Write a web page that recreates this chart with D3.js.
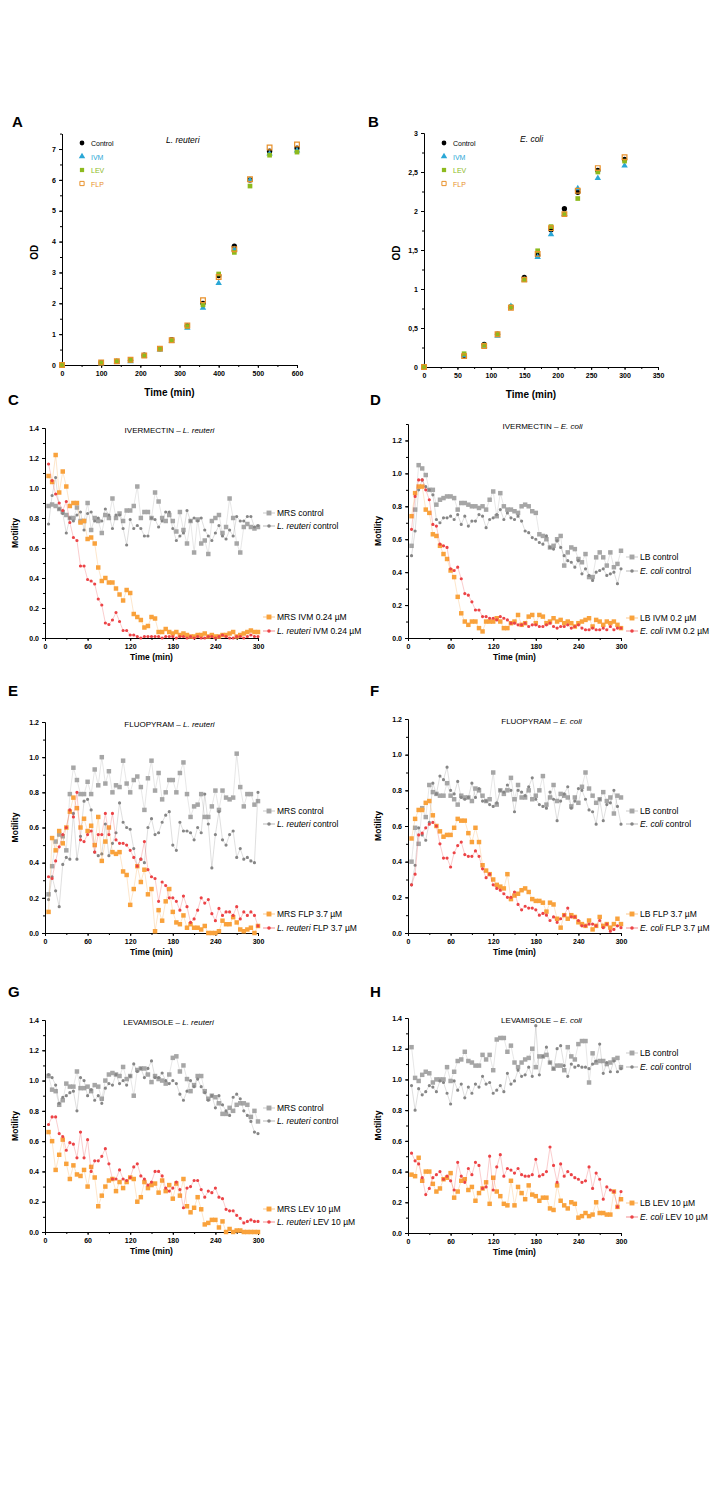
<!DOCTYPE html>
<html><head><meta charset="utf-8">
<script src="https://cdn.jsdelivr.net/npm/d3@7"></script>
<style>body{margin:0;background:#fff}svg{font-family:"Liberation Sans",Arial,sans-serif}</style>
</head><body><div id="fig"></div>
<script>
// growth curves
const growthTimesA = [0,100,140,175,210,250,280,320,360,400,440,480,530,600];
const growthA = {
  Control: [0,0.08,0.12,0.15,0.32,0.53,0.82,1.27,2.0,2.9,3.85,6.0,6.93,7.03],
  IVM: [0,0.05,0.1,0.12,0.3,0.5,0.78,1.2,1.85,2.65,3.75,6.0,6.85,6.95],
  LEV: [0,0.07,0.12,0.15,0.31,0.52,0.8,1.25,1.95,2.95,3.65,5.8,6.8,6.9],
  FLP: [0,0.08,0.12,0.17,0.31,0.53,0.8,1.28,2.1,2.85,3.75,6.02,7.05,7.15]
};
const growthTimesB = [0,60,90,110,130,150,170,190,210,230,260,300];
const growthB = {
  Control: [0,0.15,0.29,0.42,0.77,1.15,1.43,1.76,2.03,2.24,2.52,2.66],
  IVM: [0,0.15,0.27,0.4,0.78,1.12,1.41,1.7,1.96,2.29,2.42,2.58],
  LEV: [0,0.17,0.28,0.42,0.77,1.12,1.49,1.8,1.96,2.16,2.5,2.64],
  FLP: [0,0.14,0.27,0.42,0.76,1.12,1.45,1.78,1.96,2.26,2.55,2.69]
};

// motility, one value every 5 min from 5 to 300
const ivmRMrs = [0.88,0.89,0.88,0.86,0.84,0.82,0.80,0.80,0.87,0.78,0.78,0.90,0.72,0.80,0.78,0.70,0.82,0.80,0.93,0.80,0.83,0.78,0.85,0.85,0.88,1.01,0.80,0.84,0.84,0.80,0.97,0.91,0.80,0.78,0.82,0.78,0.71,0.84,0.72,0.63,0.78,0.57,0.79,0.63,0.65,0.56,0.78,0.80,0.82,0.70,0.74,0.93,0.80,0.63,0.57,0.74,0.76,0.74,0.73,0.74];
const ivmRCtl = [0.76,0.95,1.07,0.86,0.83,0.70,0.80,0.78,0.82,0.84,0.72,0.83,0.84,0.78,0.80,0.78,0.86,0.82,0.73,0.82,0.82,0.73,0.62,0.79,0.73,0.75,0.73,0.68,0.68,0.80,0.79,0.74,0.78,0.84,0.84,0.73,0.65,0.68,0.70,0.85,0.78,0.80,0.78,0.80,0.72,0.68,0.65,0.70,0.75,0.68,0.66,0.72,0.68,0.81,0.78,0.78,0.81,0.81,0.74,0.75];
const ivmRMed = [1.08,1.04,1.22,0.97,1.11,1.01,0.88,0.90,0.90,0.77,0.78,0.66,0.67,0.63,0.47,0.38,0.40,0.37,0.37,0.33,0.29,0.25,0.32,0.30,0.16,0.14,0.12,0.07,0.08,0.14,0.13,0.04,0.04,0.06,0.04,0.03,0.04,0.02,0.03,0.02,0.01,0.01,0.02,0.02,0.03,0.01,0.02,0.01,0.01,0.02,0.02,0.03,0.04,0.01,0.02,0.03,0.04,0.05,0.04,0.04];
const ivmRBug = [1.16,1.05,0.96,0.90,0.85,0.91,0.77,0.67,0.65,0.48,0.48,0.39,0.38,0.36,0.26,0.22,0.10,0.09,0.12,0.17,0.11,0.05,0.05,0.02,0.02,0.01,0.00,0.01,0.01,0.01,0.01,0.01,0.00,0.01,0.01,0.01,0.00,0.01,0.01,0.00,0.01,0.00,0.01,0.00,0.00,0.01,0.01,0.00,0.01,0.02,0.01,0.00,0.00,0.01,0.01,0.00,0.01,0.02,0.01,0.01];

const ivmELb = [0.56,0.78,1.05,1.03,0.99,0.90,0.90,0.81,0.84,0.85,0.86,0.86,0.85,0.78,0.82,0.82,0.81,0.80,0.80,0.79,0.80,0.78,0.84,0.89,0.74,0.88,0.80,0.78,0.78,0.77,0.76,0.80,0.81,0.80,0.77,0.76,0.63,0.62,0.60,0.55,0.56,0.60,0.62,0.44,0.52,0.55,0.54,0.48,0.46,0.51,0.37,0.37,0.49,0.52,0.49,0.44,0.52,0.43,0.45,0.53];
const ivmECtl = [0.50,0.65,0.90,0.96,0.92,0.90,0.87,0.72,0.70,0.73,0.73,0.74,0.72,0.75,0.69,0.74,0.68,0.71,0.71,0.75,0.74,0.67,0.72,0.73,0.75,0.78,0.72,0.76,0.73,0.72,0.74,0.71,0.65,0.64,0.61,0.60,0.58,0.57,0.62,0.55,0.54,0.59,0.55,0.50,0.47,0.46,0.43,0.47,0.39,0.42,0.38,0.35,0.40,0.41,0.42,0.38,0.39,0.40,0.33,0.42];
const ivmEMed = [0.74,0.88,0.92,0.92,0.78,0.76,0.63,0.62,0.56,0.51,0.48,0.41,0.37,0.25,0.15,0.10,0.08,0.10,0.10,0.06,0.04,0.10,0.10,0.10,0.12,0.10,0.06,0.06,0.09,0.10,0.14,0.08,0.09,0.13,0.14,0.09,0.14,0.13,0.09,0.10,0.12,0.10,0.11,0.09,0.10,0.09,0.07,0.09,0.10,0.11,0.12,0.07,0.11,0.10,0.08,0.10,0.09,0.10,0.08,0.06];
const ivmEBug = [0.66,0.86,0.96,0.96,0.90,0.84,0.69,0.68,0.57,0.56,0.55,0.42,0.41,0.43,0.36,0.27,0.26,0.22,0.17,0.17,0.13,0.13,0.12,0.12,0.11,0.13,0.12,0.11,0.09,0.09,0.08,0.08,0.09,0.07,0.08,0.08,0.07,0.07,0.08,0.09,0.07,0.06,0.07,0.07,0.08,0.06,0.07,0.08,0.06,0.05,0.05,0.06,0.05,0.05,0.06,0.05,0.07,0.05,0.06,0.06];

const flpRMrs = [0.22,0.38,0.52,0.56,0.55,0.47,0.79,0.94,0.87,0.79,0.79,0.86,0.79,0.93,0.84,1.00,0.85,0.92,0.80,0.84,0.83,0.98,0.85,0.80,0.87,0.89,0.83,0.70,0.88,0.98,0.81,0.91,0.76,0.80,0.87,0.87,0.80,0.91,0.97,0.79,0.66,0.72,0.73,0.79,0.66,0.66,0.72,0.81,0.70,0.81,0.77,0.76,0.77,1.02,0.83,0.72,0.79,0.79,0.73,0.75];
const flpRCtl = [0.19,0.32,0.24,0.15,0.39,0.43,0.42,0.68,0.42,0.55,0.75,0.76,0.70,0.46,0.44,0.45,0.62,0.44,0.51,0.57,0.74,0.63,0.60,0.59,0.48,0.38,0.42,0.40,0.60,0.65,0.56,0.57,0.63,0.67,0.69,0.50,0.47,0.63,0.58,0.58,0.57,0.53,0.60,0.57,0.79,0.62,0.37,0.56,0.69,0.53,0.50,0.56,0.58,0.43,0.48,0.42,0.43,0.41,0.40,0.80];
const flpRMed = [0.12,0.54,0.47,0.58,0.51,0.60,0.69,0.77,0.71,0.60,0.65,0.58,0.61,0.50,0.66,0.41,0.52,0.60,0.46,0.45,0.46,0.35,0.33,0.16,0.25,0.38,0.29,0.36,0.22,0.25,0.01,0.13,0.07,0.18,0.25,0.12,0.06,0.05,0.10,0.03,0.05,0.03,0.03,0.02,0.04,0.00,0.00,0.00,0.01,0.07,0.05,0.05,0.09,0.06,0.02,0.01,0.02,0.03,0.00,0.04];
const flpRBug = [0.32,0.31,0.41,0.49,0.56,0.60,0.70,0.66,0.80,0.53,0.52,0.56,0.58,0.46,0.56,0.56,0.68,0.56,0.68,0.53,0.51,0.51,0.50,0.47,0.43,0.38,0.42,0.52,0.36,0.32,0.31,0.18,0.29,0.27,0.20,0.20,0.18,0.13,0.21,0.15,0.06,0.08,0.13,0.20,0.17,0.19,0.11,0.07,0.14,0.10,0.12,0.12,0.10,0.15,0.08,0.12,0.10,0.12,0.10,0.04];

const flpELb = [0.40,0.59,0.50,0.70,0.65,0.83,0.79,0.78,0.77,0.77,0.84,0.77,0.75,0.72,0.77,0.76,0.76,0.74,0.81,0.80,0.77,0.74,0.75,0.90,0.72,0.80,0.78,0.80,0.87,0.75,0.83,0.76,0.76,0.80,0.75,0.77,0.80,0.88,0.72,0.76,0.83,0.74,0.78,0.77,0.76,0.71,0.76,0.73,0.82,0.90,0.81,0.77,0.73,0.75,0.79,0.74,0.76,0.67,0.77,0.76];
const flpECtl = [0.27,0.38,0.59,0.55,0.52,0.62,0.84,0.78,0.88,0.86,0.93,0.80,0.78,0.85,0.76,0.75,0.76,0.84,0.76,0.81,0.74,0.74,0.72,0.71,0.73,0.80,0.79,0.83,0.80,0.68,0.80,0.79,0.77,0.82,0.87,0.75,0.72,0.71,0.70,0.79,0.75,0.63,0.74,0.78,0.82,0.70,0.74,0.81,0.80,0.75,0.69,0.68,0.61,0.75,0.63,0.72,0.73,0.80,0.71,0.61];
const flpEMed = [0.53,0.64,0.69,0.69,0.73,0.74,0.66,0.60,0.57,0.54,0.55,0.55,0.59,0.64,0.63,0.63,0.56,0.51,0.59,0.51,0.38,0.35,0.33,0.30,0.27,0.26,0.25,0.33,0.19,0.21,0.22,0.24,0.25,0.23,0.19,0.18,0.18,0.17,0.12,0.17,0.16,0.08,0.03,0.10,0.08,0.10,0.09,0.06,0.05,0.04,0.07,0.02,0.04,0.09,0.04,0.05,0.03,0.05,0.08,0.05];
const flpEBug = [0.27,0.33,0.55,0.56,0.59,0.61,0.62,0.60,0.50,0.42,0.42,0.37,0.45,0.49,0.51,0.44,0.43,0.43,0.46,0.43,0.36,0.31,0.33,0.27,0.25,0.24,0.22,0.20,0.20,0.23,0.16,0.13,0.15,0.14,0.14,0.13,0.10,0.11,0.10,0.07,0.09,0.06,0.08,0.10,0.14,0.09,0.09,0.07,0.04,0.04,0.05,0.05,0.04,0.07,0.03,0.05,0.01,0.02,0.04,0.03];

const levRMrs = [1.03,0.94,0.93,0.84,0.87,0.98,0.96,0.96,1.06,0.95,0.95,0.96,0.93,0.97,0.96,0.88,1.00,1.04,1.05,1.04,1.03,1.09,1.01,1.03,0.90,1.07,1.08,1.08,1.04,0.99,1.03,1.01,1.00,0.98,1.04,1.15,1.16,1.06,1.10,1.01,0.93,0.97,1.03,1.03,0.93,0.88,0.90,0.89,0.85,0.78,0.78,0.82,0.80,0.84,0.85,0.85,0.84,0.76,0.80,0.73];
const levRCtl = [1.04,1.02,0.97,0.85,0.89,0.90,0.92,0.93,0.80,1.02,1.00,0.90,0.94,0.87,0.90,0.85,0.95,0.98,0.97,1.04,0.98,1.00,0.97,1.03,1.11,1.06,1.08,1.02,1.08,1.13,1.02,1.02,1.05,1.00,0.98,1.00,0.98,0.91,0.87,0.93,1.00,0.96,1.01,0.96,0.92,0.87,0.90,0.82,0.90,0.84,0.80,0.77,0.89,0.91,0.88,0.80,0.77,0.73,0.66,0.65];
const levRMed = [0.66,0.60,0.41,0.51,0.61,0.45,0.35,0.44,0.38,0.37,0.41,0.30,0.43,0.36,0.17,0.24,0.30,0.34,0.35,0.27,0.33,0.29,0.33,0.36,0.35,0.20,0.23,0.33,0.29,0.31,0.32,0.26,0.34,0.27,0.31,0.22,0.32,0.24,0.35,0.17,0.13,0.16,0.23,0.15,0.05,0.06,0.08,0.08,0.03,0.07,0.00,0.02,0.00,0.01,0.01,0.00,0.00,0.00,0.00,0.00];
const levRBug = [0.71,0.76,0.76,0.65,0.63,0.54,0.59,0.58,0.49,0.66,0.49,0.61,0.40,0.47,0.47,0.50,0.55,0.45,0.35,0.35,0.41,0.35,0.34,0.36,0.43,0.45,0.37,0.35,0.31,0.33,0.40,0.40,0.37,0.29,0.27,0.29,0.33,0.28,0.16,0.29,0.30,0.34,0.34,0.28,0.23,0.27,0.26,0.29,0.23,0.22,0.15,0.14,0.14,0.11,0.09,0.06,0.07,0.08,0.07,0.07];

const levELb = [1.21,1.01,0.99,1.03,1.05,1.04,0.98,1.00,1.00,1.00,1.08,0.99,1.05,1.12,1.13,1.18,1.12,1.11,1.09,1.09,1.16,1.13,1.16,1.06,1.26,1.27,1.27,1.18,1.22,1.11,1.08,1.11,1.13,1.14,1.20,1.08,1.15,1.15,1.16,1.11,1.07,1.09,1.09,1.06,1.21,1.15,1.13,1.23,1.25,1.25,0.98,1.17,1.11,1.12,1.12,1.10,1.11,1.13,1.14,1.08];
const levECtl = [0.96,0.80,0.94,0.90,0.92,0.96,0.95,0.92,0.99,0.98,0.91,0.84,0.99,0.93,0.97,0.88,0.95,0.91,0.97,0.95,1.02,0.97,0.98,0.91,0.93,0.96,0.92,1.04,0.97,0.99,1.06,1.02,1.03,1.08,1.02,1.35,1.03,1.15,1.21,1.11,1.07,1.20,1.22,1.09,1.02,1.10,1.08,1.09,1.08,1.08,1.07,1.10,1.12,1.23,1.04,1.11,1.05,1.12,1.05,1.07];
const levEMed = [0.38,0.37,0.49,0.34,0.40,0.40,0.32,0.27,0.29,0.35,0.36,0.39,0.23,0.27,0.34,0.35,0.28,0.30,0.21,0.26,0.29,0.33,0.19,0.36,0.27,0.24,0.19,0.18,0.34,0.18,0.30,0.26,0.22,0.31,0.25,0.24,0.21,0.23,0.23,0.16,0.15,0.31,0.21,0.18,0.16,0.20,0.19,0.10,0.11,0.13,0.11,0.12,0.20,0.13,0.13,0.12,0.12,0.27,0.17,0.22];
const levEBug = [0.52,0.47,0.45,0.36,0.25,0.29,0.36,0.38,0.40,0.35,0.37,0.34,0.28,0.46,0.37,0.33,0.42,0.38,0.46,0.44,0.29,0.30,0.50,0.28,0.43,0.51,0.37,0.42,0.41,0.39,0.42,0.38,0.37,0.37,0.38,0.48,0.37,0.38,0.40,0.56,0.44,0.33,0.45,0.37,0.40,0.38,0.36,0.35,0.33,0.34,0.43,0.29,0.39,0.35,0.22,0.30,0.28,0.27,0.17,0.27];

const svg = d3.select('#fig').append('svg').attr('width', 720).attr('height', 1512);
const sym = {Control: d3.symbolCircle, IVM: d3.symbolTriangle, LEV: d3.symbolSquare, FLP: d3.symbolSquare};
const gcol = {Control: '#000', IVM: '#2aa7d6', LEV: '#8dba1e', FLP: '#e8902a'};

function label(x, y, t) {
  svg.append('text').attr('x', x).attr('y', y).attr('font-size', 15).attr('font-weight', 'bold').text(t);
}

function growth(o) {
  const x = d3.scaleLinear().domain(o.xd).range([o.x0, o.x1]);
  const y = d3.scaleLinear().domain(o.yd).range([o.y0, o.y1]);
  const g = svg.append('g');
  g.append('g').attr('transform', `translate(0,${o.y0})`)
    .call(d3.axisBottom(x).tickValues(d3.range(0, o.xd[1] + 1, o.xs)).tickSize(3).tickSizeOuter(0));
  g.append('g').attr('transform', `translate(0,${o.y0})`)
    .call(d3.axisBottom(x).tickValues(d3.range(0, o.xd[1] + 1, o.xs / 2)).tickSize(2).tickFormat('').tickSizeOuter(0));
  g.append('g').attr('transform', `translate(${o.x0},0)`)
    .call(d3.axisLeft(y).tickValues(o.yt).tickFormat(o.yf).tickSize(3).tickSizeOuter(0));
  g.append('g').attr('transform', `translate(${o.x0},0)`)
    .call(d3.axisLeft(y).tickValues(d3.range(0, o.yd[1] + 0.01, o.ym)).tickSize(2).tickFormat('').tickSizeOuter(0));
  g.selectAll('.tick text').attr('font-size', 7).attr('font-weight', 'bold').attr('font-family', 'Liberation Sans');
  g.selectAll('.domain, .tick line').attr('stroke', '#000');
  Object.keys(o.data).forEach((k, j) => {
    g.selectAll(null).data(o.data[k]).enter().append('path')
      .attr('transform', (d, i) => `translate(${x(o.t[i])},${y(d)})`)
      .attr('d', d3.symbol(sym[k], k === 'IVM' ? 18 : 22))
      .attr('fill', k === 'FLP' ? 'none' : gcol[k]).attr('stroke', k === 'FLP' ? gcol[k] : 'none').attr('stroke-width', 1.2);
    const ly = o.ly + j * 13.5;
    g.append('path').attr('transform', `translate(${o.x0 + 20},${ly})`).attr('d', d3.symbol(sym[k], 18))
      .attr('fill', k === 'FLP' ? 'none' : gcol[k]).attr('stroke', k === 'FLP' ? gcol[k] : 'none');
    g.append('text').attr('x', o.x0 + 29).attr('y', ly + 3).attr('font-size', 7).attr('fill', gcol[k]).text(k);
  });
  g.append('text').attr('x', o.tx).attr('y', o.y1 + 9).attr('font-size', 8.5).attr('font-style', 'italic').text(o.title);
  g.append('text').attr('x', (o.x0 + o.x1) / 2 - 10).attr('y', o.y0 + 31).attr('text-anchor', 'middle')
    .attr('font-size', 10).attr('font-weight', 'bold').text('Time (min)');
  g.append('text').attr('transform', `translate(${o.x0 - 24},${(o.y0 + o.y1) / 2 + 3}) rotate(-90)`)
    .attr('text-anchor', 'middle').attr('font-size', 10).attr('font-weight', 'bold').text('OD');
}

const mcol = {m: '#a6a6a6', c: '#868686', t: '#f9a23c', b: '#ec4346'};

function motility(o) {
  const t = d3.range(5, 301, 5);
  const x = d3.scaleLinear().domain([0, 300]).range([o.x0, o.x0 + 213]);
  const y = d3.scaleLinear().domain([0, o.ymax]).range([o.y0, o.y0 - o.h]);
  const g = svg.append('g');
  g.append('g').attr('transform', `translate(0,${o.y0})`)
    .call(d3.axisBottom(x).tickValues(d3.range(0, 301, 60)).tickSize(3).tickSizeOuter(0));
  g.append('g').attr('transform', `translate(0,${o.y0})`)
    .call(d3.axisBottom(x).tickValues(d3.range(0, 301, 30)).tickSize(2).tickFormat('').tickSizeOuter(0));
  g.append('g').attr('transform', `translate(${o.x0},0)`)
    .call(d3.axisLeft(y).tickValues(d3.range(0, o.ymax + 0.01, 0.2)).tickFormat(d3.format('.1f')).tickSize(3).tickSizeOuter(0));
  g.append('g').attr('transform', `translate(${o.x0},0)`)
    .call(d3.axisLeft(y).tickValues(d3.range(0, o.ymax + 0.01, 0.1)).tickSize(2).tickFormat('').tickSizeOuter(0));
  g.selectAll('.tick text').attr('font-size', 7).attr('font-weight', 'bold').attr('font-family', 'Liberation Sans');
  g.selectAll('.domain, .tick line').attr('stroke', '#000');
  const line = d3.line().x((d, i) => x(t[i])).y(d => y(d));
  o.series.forEach(s => {
    g.append('path').datum(s.v).attr('d', line).attr('fill', 'none').attr('stroke', mcol[s.c])
      .attr('stroke-width', 0.6).attr('opacity', 0.45);
    const sq = s.c === 'm' || s.c === 't';
    g.selectAll(null).data(s.v).enter().append('path')
      .attr('transform', (d, i) => `translate(${x(t[i])},${y(d)})`)
      .attr('d', d3.symbol(sq ? d3.symbolSquare : d3.symbolCircle, sq ? 20 : 8)).attr('fill', mcol[s.c]);
  });
  o.legend.forEach((l, j) => {
    const s = o.series[j];
    const ly = l.y;
    const lx = o.x0 + 224;
    const sq = s.c === 'm' || s.c === 't';
    g.append('line').attr('x1', lx - 6).attr('x2', lx + 6).attr('y1', ly).attr('y2', ly).attr('stroke', mcol[s.c]).attr('stroke-width', 0.6);
    g.append('path').attr('transform', `translate(${lx},${ly})`).attr('d', d3.symbol(sq ? d3.symbolSquare : d3.symbolCircle, sq ? 24 : 10)).attr('fill', mcol[s.c]);
    const tx = g.append('text').attr('x', lx + 8).attr('y', ly + 3).attr('font-size', 8.5);
    if (l.it) tx.append('tspan').attr('font-style', 'italic').text(l.it);
    tx.append('tspan').text(l.t);
  });
  const tt = g.append('text').attr('x', x(150) + o.tdx).attr('y', o.y0 - o.h + 5).attr('text-anchor', 'middle').attr('font-size', 8);
  tt.append('tspan').text(o.title[0]);
  tt.append('tspan').attr('font-style', 'italic').text(o.title[1]);
  g.append('text').attr('x', x(150)).attr('y', o.y0 + 22).attr('text-anchor', 'middle')
    .attr('font-size', 8.5).attr('font-weight', 'bold').text('Time (min)');
  g.append('text').attr('transform', `translate(${o.x0 - 27},${o.y0 - o.h / 2}) rotate(-90)`)
    .attr('text-anchor', 'middle').attr('font-size', 8.5).attr('font-weight', 'bold').text('Motility');
}

label(12, 127, 'A'); label(368, 127, 'B');
growth({x0: 62, x1: 297, y0: 365, y1: 133.6, xd: [0, 600], yd: [0, 7.5], xs: 100, ym: 0.5,
  yt: d3.range(0, 8), yf: d3.format('d'), t: growthTimesA, data: growthA, ly: 143, tx: 166, title: 'L. reuteri'});
growth({x0: 424, x1: 658, y0: 367, y1: 133, xd: [0, 350], yd: [0, 3], xs: 50, ym: 0.25,
  yt: d3.range(0, 3.01, 0.5), yf: d => String(d).replace('.', ','), t: growthTimesB, data: growthB, ly: 143, tx: 520, title: 'E. coli'});

label(8, 405, 'C'); label(370, 405, 'D');
motility({x0: 45, y0: 638, h: 210, ymax: 1.4, tdx: 18, title: ['IVERMECTIN – ', 'L. reuteri'],
  series: [{v: ivmRMrs, c: 'm'}, {v: ivmRCtl, c: 'c'}, {v: ivmRMed, c: 't'}, {v: ivmRBug, c: 'b'}],
  legend: [{y: 513, t: 'MRS control'}, {y: 526, it: 'L. reuteri', t: ' control'}, {y: 617, t: 'MRS IVM 0.24 µM'}, {y: 631, it: 'L. reuteri', t: ' IVM 0.24 µM'}]});
motility({x0: 408, y0: 638, h: 214, ymax: 1.3, tdx: 28, title: ['IVERMECTIN – ', 'E. coli'],
  series: [{v: ivmELb, c: 'm'}, {v: ivmECtl, c: 'c'}, {v: ivmEMed, c: 't'}, {v: ivmEBug, c: 'b'}],
  legend: [{y: 557, t: 'LB control'}, {y: 571, it: 'E. coli', t: ' control'}, {y: 618, t: 'LB IVM 0.2 µM'}, {y: 631, it: 'E. coli', t: ' IVM 0.2 µM'}]});

label(8, 696, 'E'); label(370, 696, 'F');
motility({x0: 45, y0: 933, h: 211, ymax: 1.2, tdx: 18, title: ['FLUOPYRAM  – ', 'L. reuteri'],
  series: [{v: flpRMrs, c: 'm'}, {v: flpRCtl, c: 'c'}, {v: flpRMed, c: 't'}, {v: flpRBug, c: 'b'}],
  legend: [{y: 811, t: 'MRS control'}, {y: 824, it: 'L. reuteri', t: ' control'}, {y: 914, t: 'MRS FLP 3.7 µM'}, {y: 928, it: 'L. reuteri', t: ' FLP 3.7 µM'}]});
motility({x0: 408, y0: 933, h: 214, ymax: 1.2, tdx: 27, title: ['FLUOPYRAM  – ', 'E. coli'],
  series: [{v: flpELb, c: 'm'}, {v: flpECtl, c: 'c'}, {v: flpEMed, c: 't'}, {v: flpEBug, c: 'b'}],
  legend: [{y: 811, t: 'LB control'}, {y: 824, it: 'E. coli', t: ' control'}, {y: 914, t: 'LB FLP 3.7 µM'}, {y: 928, it: 'E. coli', t: ' FLP 3.7 µM'}]});

label(8, 997, 'G'); label(370, 997, 'H');
motility({x0: 45, y0: 1232, h: 212, ymax: 1.4, tdx: 17, title: ['LEVAMISOLE  – ', 'L. reuteri'],
  series: [{v: levRMrs, c: 'm'}, {v: levRCtl, c: 'c'}, {v: levRMed, c: 't'}, {v: levRBug, c: 'b'}],
  legend: [{y: 1108, t: 'MRS control'}, {y: 1121, it: 'L. reuteri', t: ' control'}, {y: 1209, t: 'MRS LEV 10 µM'}, {y: 1222, it: 'L. reuteri', t: ' LEV 10 µM'}]});
motility({x0: 408, y0: 1233, h: 215, ymax: 1.4, tdx: 27, title: ['LEVAMISOLE  – ', 'E. coli'],
  series: [{v: levELb, c: 'm'}, {v: levECtl, c: 'c'}, {v: levEMed, c: 't'}, {v: levEBug, c: 'b'}],
  legend: [{y: 1053, t: 'LB control'}, {y: 1067, it: 'E. coli', t: ' control'}, {y: 1203, t: 'LB LEV 10 µM'}, {y: 1217, it: 'E. coli', t: ' LEV 10 µM'}]});
</script></body></html>
